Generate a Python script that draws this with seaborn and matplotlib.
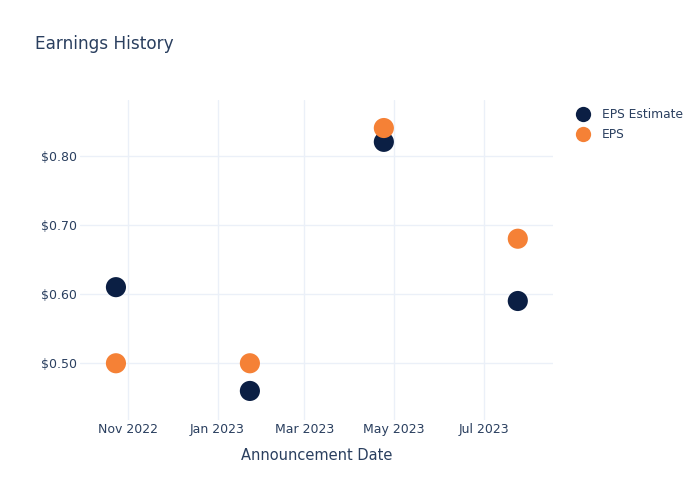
import matplotlib
matplotlib.use("Agg")
import matplotlib.pyplot as plt
import matplotlib.dates as mdates
from matplotlib.ticker import FuncFormatter
from matplotlib.lines import Line2D
import seaborn as sns
import pandas as pd

dates = ["2022-10-24", "2023-01-23", "2023-04-24", "2023-07-24"]
eps_estimate = [0.61, 0.46, 0.82, 0.59]
eps_actual = [0.50, 0.50, 0.84, 0.68]
series_names = ["EPS Estimate", "EPS"]
colors = {"EPS Estimate": "#0b1f44", "EPS": "#f58136"}
y_ticks = [0.5, 0.6, 0.7, 0.8]
x_ticks = ["2022-11-01", "2023-01-01", "2023-03-01", "2023-05-01", "2023-07-01"]

df = pd.DataFrame({
    "date": pd.to_datetime(dates * 2),
    "value": eps_estimate + eps_actual,
    "series": [series_names[0]] * len(dates) + [series_names[1]] * len(dates),
})

sns.set_theme(style="white")
plt.rcParams["font.family"] = ["DejaVu Sans"]
text_color = "#2a3f5f"

fig = plt.figure(figsize=(7, 5), dpi=100)
ax = fig.add_axes([80 / 700, 80 / 500, 473 / 700, 320 / 500])

sns.scatterplot(data=df, x="date", y="value", hue="series", palette=colors,
                hue_order=series_names, s=210, edgecolor="none", ax=ax,
                legend=False, zorder=3)

ax.set_xlim(pd.Timestamp("2022-09-29 14:00"), pd.Timestamp("2023-08-16 22:00"))
ax.set_ylim(0.418, 0.8805)
ax.set_xticks(pd.to_datetime(x_ticks))
ax.xaxis.set_major_formatter(mdates.DateFormatter("%b %Y"))
ax.set_yticks(y_ticks)
ax.yaxis.set_major_formatter(FuncFormatter(lambda v, p: f"${v:.2f}"))

ax.grid(True, color="#ebf0f8", linewidth=1)
ax.set_axisbelow(True)
for s in ax.spines.values():
    s.set_visible(False)
ax.tick_params(axis="both", length=0, labelsize=9, colors=text_color)
ax.tick_params(axis="y", pad=2)
ax.tick_params(axis="x", pad=2)
ax.set_ylabel("")
ax.set_xlabel("Announcement Date", fontsize=10.5, color=text_color, labelpad=9)

fig.text(35 / 700, 1 - 44 / 500, "Earnings History", fontsize=12.2,
         color=text_color, va="center", ha="left")

handles = [Line2D([0], [0], marker="o", linestyle="", markersize=11,
                  markerfacecolor=colors[n], markeredgecolor="none") for n in series_names]
leg = fig.legend(handles, series_names, loc="upper left",
                 bbox_to_anchor=(571 / 700, 1 - 103 / 500), frameon=False,
                 fontsize=8.8, handletextpad=0.9, labelspacing=0.6,
                 handlelength=1.2, borderaxespad=0)
for t in leg.get_texts():
    t.set_color(text_color)

fig.savefig("out.png", dpi=100)
